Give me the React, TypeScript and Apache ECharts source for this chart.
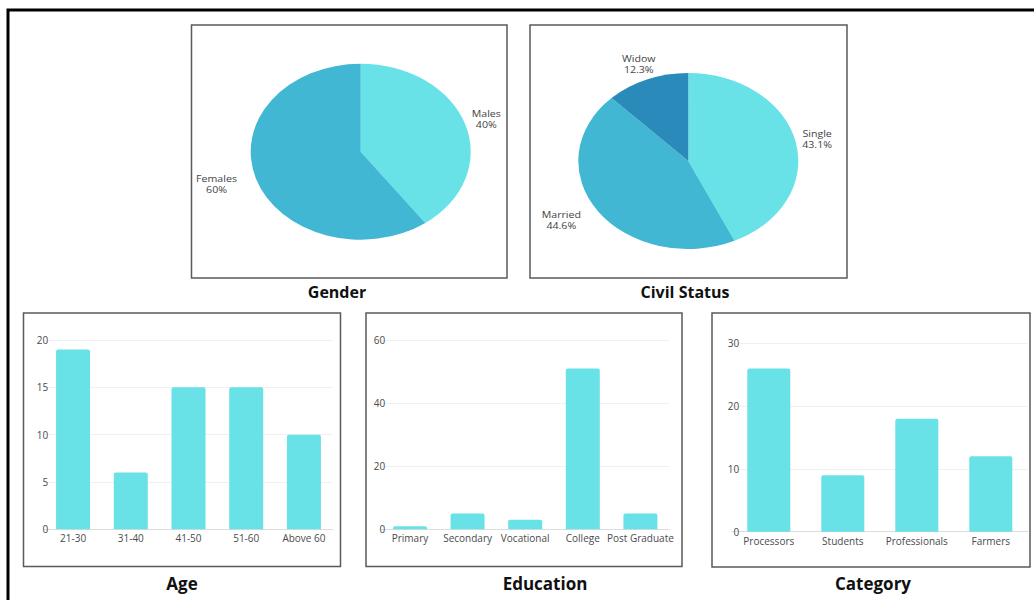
import React, { useEffect, useRef } from "react";
import * as echarts from "echarts";

// ---- data ----
const genderLabels = ["Males", "Females"];
const genderValues = [40, 60];

const civilLabels = ["Single", "Married", "Widow"];
const civilValues = [43.1, 44.6, 12.3];

const ageCategories = ["21-30", "31-40", "41-50", "51-60", "Above 60"];
const ageValues = [19, 6, 15, 15, 10];
const ageAxis = { max: 20, interval: 5 };

const eduCategories = ["Primary", "Secondary", "Vocational", "College", "Post Graduate"];
const eduValues = [1, 5, 3, 51, 5];
const eduAxis = { max: 60, interval: 20 };

const catCategories = ["Processors", "Students", "Professionals", "Farmers"];
const catValues = [26, 9, 18, 12];
const catAxis = { max: 30, interval: 10 };

const panelTitles = ["Gender", "Civil Status", "Age", "Education", "Category"];

// ---- styles ----
const LIGHT = "#69e2e7";
const MID = "#42b7d4";
const DARK = "#2a8aba";
const FONT = "'Open Sans', 'DejaVu Sans', sans-serif";
const SX = 1.25; // horizontal stretch of the pie layer

// label line lengths (positioning of the outside labels)
const genderLabelLines = [
  { length: 15.6, length2: -14.7 },
  { length: 18.5, length2: -7.3 },
];
const civilLabelLines = [
  { length: 14, length2: -13.5 },
  { length: 17, length2: -5.6 },
  { length: 16, length2: -18 },
];

export default function App() {
  const mainRef = useRef<HTMLDivElement>(null);
  const pieRef = useRef<HTMLDivElement>(null);

  useEffect(() => {
    const main = echarts.init(mainRef.current as HTMLDivElement, null, { renderer: "svg" });
    const pie = echarts.init(pieRef.current as HTMLDivElement, null, { renderer: "svg" });

    const grids = [
      { left: 44.2, top: 340, width: 288.6, height: 189.3 },
      { left: 381.2, top: 340, width: 288, height: 189.3 },
      { left: 731.8, top: 343.3, width: 296, height: 188.4 },
    ];
    const barSets = [
      { cats: ageCategories, vals: ageValues, axis: ageAxis, bw: 34, margin: -4, xm: 4 },
      { cats: eduCategories, vals: eduValues, axis: eduAxis, bw: 34, margin: -4, xm: 4 },
      { cats: catCategories, vals: catValues, axis: catAxis, bw: 43, margin: -7.5, xm: 4 },
    ];

    const boxes = [
      { x: 191.5, y: 25, w: 315.5, h: 253 },
      { x: 530, y: 25, w: 317, h: 253 },
      { x: 23.5, y: 313, w: 317, h: 253.5 },
      { x: 366, y: 313, w: 316, h: 253.5 },
      { x: 712, y: 313, w: 318, h: 254 },
    ];
    const titlePos = [
      { x: 337, y: 292, s: 16 },
      { x: 685, y: 292, s: 16 },
      { x: 182, y: 583, s: 17 },
      { x: 545, y: 583, s: 17 },
      { x: 873, y: 583, s: 17 },
    ];

    const graphic: any[] = [
      {
        type: "rect",
        shape: { x: 8, y: 10, width: 1200, height: 800 },
        style: { fill: "none", stroke: "#000", lineWidth: 3 },
        silent: true,
      },
    ];
    boxes.forEach((b) =>
      graphic.push({
        type: "rect",
        shape: { x: b.x, y: b.y, width: b.w, height: b.h },
        style: { fill: "none", stroke: "#5a5a5a", lineWidth: 1.5 },
        silent: true,
      })
    );
    panelTitles.forEach((t, i) =>
      graphic.push({
        type: "text",
        x: titlePos[i].x,
        y: titlePos[i].y,
        style: {
          text: t,
          fontFamily: FONT,
          fontSize: titlePos[i].s,
          fontWeight: "bold",
          fill: "#111",
          align: "center",
          verticalAlign: "middle",
        },
        silent: true,
      })
    );

    main.setOption({
      animation: false,
      backgroundColor: "#fff",
      grid: grids,
      xAxis: barSets.map((s, i) => ({
        type: "category",
        gridIndex: i,
        data: s.cats,
        axisTick: { show: false },
        axisLine: { show: true, lineStyle: { color: "#dcdcdc", width: 1 } },
        axisLabel: { interval: 0, margin: s.xm, color: "#4a4a4a", fontSize: 10, fontFamily: FONT },
      })),
      yAxis: barSets.map((s, i) => ({
        type: "value",
        gridIndex: i,
        min: 0,
        max: s.axis.max,
        interval: s.axis.interval,
        axisLine: { show: false },
        axisTick: { show: false },
        splitLine: { lineStyle: { color: "#f0f0f0", width: 1 } },
        axisLabel: { margin: s.margin, color: "#4a4a4a", fontSize: 10, fontFamily: FONT },
      })),
      series: barSets.map((s, i) => ({
        type: "bar",
        xAxisIndex: i,
        yAxisIndex: i,
        data: s.vals,
        barWidth: s.bw,
        itemStyle: { color: LIGHT, borderRadius: [2, 2, 0, 0] },
        silent: true,
      })),
      graphic,
    });

    const pieLabel = {
      show: true,
      position: "outside",
      formatter: "{a|{b}}\n{a|{c}%}",
      color: "#444",
      fontFamily: FONT,
      fontSize: 8.5,
      rich: { a: { align: "center", fontFamily: FONT, fontSize: 8.5, color: "#444", lineHeight: 11 } },
    };
    pie.setOption({
      animation: false,
      series: [
        {
          type: "pie",
          center: [360.7 / SX, 151.7],
          radius: 88,
          startAngle: 90,
          clockwise: true,
          silent: true,
          avoidLabelOverlap: false,
          label: pieLabel,
          labelLine: { show: false },
          data: genderLabels.map((n, i) => ({
            name: n,
            value: genderValues[i],
            itemStyle: { color: [LIGHT, MID][i] },
            labelLine: { show: false, ...genderLabelLines[i] },
          })),
        },
        {
          type: "pie",
          center: [688.3 / SX, 161],
          radius: 88,
          startAngle: 90,
          clockwise: true,
          silent: true,
          avoidLabelOverlap: false,
          label: pieLabel,
          labelLine: { show: false },
          data: civilLabels.map((n, i) => ({
            name: n,
            value: civilValues[i],
            itemStyle: { color: [LIGHT, MID, DARK][i] },
            labelLine: { show: false, ...civilLabelLines[i] },
          })),
        },
      ],
    });

    return () => {
      main.dispose();
      pie.dispose();
    };
  }, []);

  return (
    <div style={{ position: "absolute", left: 0, top: 0, width: 1034, height: 600, overflow: "hidden", background: "#fff" }}>
      <div ref={mainRef} style={{ position: "absolute", left: 0, top: 0, width: 1034, height: 600 }} />
      <div
        ref={pieRef}
        style={{
          position: "absolute",
          left: 0,
          top: 0,
          width: 1034 / SX,
          height: 300,
          transform: `scaleX(${SX})`,
          transformOrigin: "0 0",
          pointerEvents: "none",
        }}
      />
    </div>
  );
}
